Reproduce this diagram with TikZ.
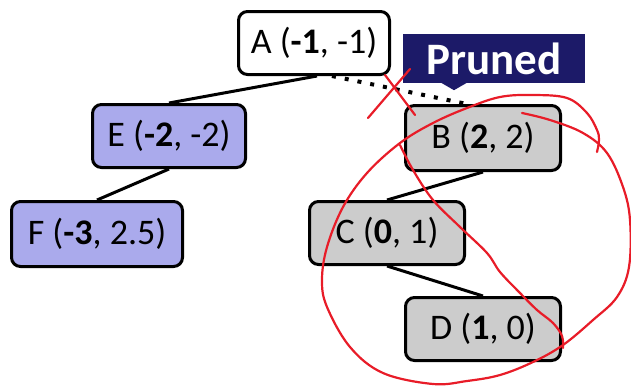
\documentclass[tikz,border=0pt]{standalone}
\usepackage{fontspec}
\setmainfont{Carlito}
\usepackage{tikz}
\usetikzlibrary{arrows}

\definecolor{lavender}{RGB}{170,170,236}
\definecolor{prunegray}{RGB}{204,204,204}
\definecolor{navy}{RGB}{28,26,104}
\definecolor{pen}{RGB}{232,28,40}

\tikzset{
  treenode/.style={draw=black, line width=3pt, rounded corners=9pt, inner sep=0pt,
                   minimum width=153pt, minimum height=63pt,
                   font=\fontsize{36}{40}\selectfont},
  kept/.style={treenode, fill=lavender},
  cut/.style={treenode, fill=prunegray},
  branch/.style={line width=3pt},
  prunedbranch/.style={line width=4pt, dash pattern=on 4pt off 9pt},
  scribble/.style={draw=pen, line width=2.2pt, line cap=round, line join=round}
}

\begin{document}
\begin{tikzpicture}[x=1pt, y=-1pt]
\useasboundingbox (0,0) rectangle (631,386);

\node[treenode, fill=white, minimum width=151pt] (A) at (314,43) {A (\textbf{-1}, -1)};
\node[kept] (E) at (169,136) {E (\textbf{-2}, -2)};
\node[kept, minimum width=171pt, minimum height=65pt] (F) at (97,234) {F (\textbf{-3}, 2.5)};
\node[cut, minimum width=155pt, minimum height=65pt] (B) at (483,138) {B (\textbf{2}, 2)};
\node[cut, minimum width=155pt] (C) at (387,233) {C (\textbf{0}, 1)};
\node[cut, minimum width=155pt] (D) at (483,329) {D (\textbf{1}, 0)};

\draw[branch] ([xshift=3pt]A.south) -- (E.north);
\draw[branch] (E.south) -- (F.north);
\draw[branch] (B.south) -- (C.north);
\draw[branch] (C.south) -- (D.north);
\draw[prunedbranch] ([xshift=18pt]A.south) -- ([xshift=-16pt]B.north);

% label with a small notch under it
\node[fill=navy, text=white, inner sep=0pt, minimum width=182pt, minimum height=49pt,
      font=\fontsize{45}{48}\selectfont\bfseries] (pruned) at (494,58.5) {Pruned};
\fill[navy] ([xshift=-53pt,yshift=0.5pt]pruned.south) -- ([xshift=-40pt,yshift=-7pt]pruned.south)
            -- ([xshift=-27pt,yshift=0.5pt]pruned.south) -- cycle;

% red pen marks
\draw[scribble] (385,75) -- (415,115);
\draw[scribble] (368,118) -- (410,69);
\draw[scribble] plot[smooth, tension=0.6] coordinates {
  (522,113) (550,120) (583,133) (607,153) (623,187) (630,220) (629,267) (617,297)
  (593,320) (563,345) (533,362) (500,375) (467,381) (433,384) (383,373) (350,347)
  (327,307) (322,280) (327,247) (343,207) (367,173) (400,143) (433,123) (467,108)
  (500,97) (533,95) (567,98) (587,113) (597,130) (599,140) (597,152)};
\draw[scribble] plot[smooth, tension=0.6] coordinates {
  (400,145) (413,170) (433,200) (460,227) (487,253) (500,272) (520,293) (537,310)
  (553,323) (562,336) (563,348)};
\end{tikzpicture}
\end{document}
